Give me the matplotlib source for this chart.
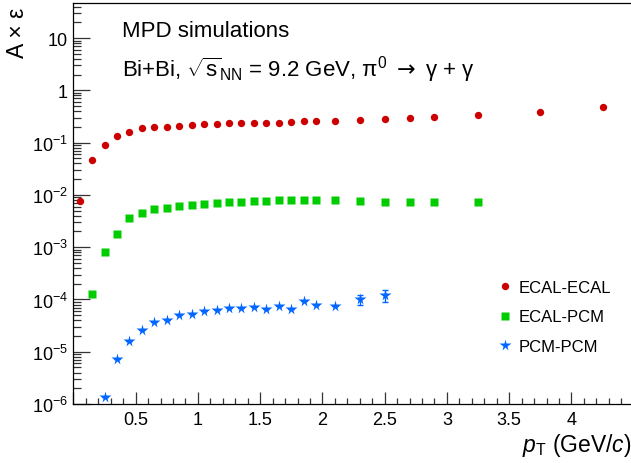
import numpy as np
import matplotlib
matplotlib.use("Agg")
import matplotlib.pyplot as plt
from matplotlib.ticker import FixedLocator, FuncFormatter, MultipleLocator

plt.rcParams["font.family"] = ["Liberation Sans", "DejaVu Sans"]
plt.rcParams["mathtext.fontset"] = "custom"
plt.rcParams["mathtext.rm"] = "Liberation Sans"
plt.rcParams["mathtext.it"] = "Liberation Sans:italic"
plt.rcParams["mathtext.bf"] = "Liberation Sans:bold"
plt.rcParams["mathtext.sf"] = "DejaVu Sans"

# ---------------------------------------------------------------------------
# Data
# ---------------------------------------------------------------------------
pt_ecal_ecal = [0.05, 0.15, 0.25, 0.35, 0.45, 0.55, 0.65, 0.75, 0.85, 0.95,
                1.05, 1.15, 1.25, 1.35, 1.45, 1.55, 1.65, 1.75, 1.85, 1.95,
                2.1, 2.3, 2.5, 2.7, 2.9, 3.25, 3.75, 4.25]
acc_ecal_ecal = [0.0077, 0.046, 0.092, 0.133, 0.163, 0.189, 0.200, 0.202,
                 0.212, 0.215, 0.225, 0.225, 0.238, 0.238, 0.238, 0.243,
                 0.243, 0.245, 0.256, 0.256, 0.265, 0.270, 0.284, 0.300,
                 0.315, 0.334, 0.386, 0.48]

pt_ecal_pcm = [0.15, 0.25, 0.35, 0.45, 0.55, 0.65, 0.75, 0.85, 0.95,
               1.05, 1.15, 1.25, 1.35, 1.45, 1.55, 1.65, 1.75, 1.85, 1.95,
               2.1, 2.3, 2.5, 2.7, 2.9, 3.25]
acc_ecal_pcm = [1.26e-4, 8.0e-4, 1.75e-3, 3.6e-3, 4.5e-3, 5.3e-3, 5.7e-3,
                6.2e-3, 6.5e-3, 6.8e-3, 7.1e-3, 7.4e-3, 7.4e-3, 7.7e-3,
                7.7e-3, 7.9e-3, 7.9e-3, 8.0e-3, 8.0e-3, 8.0e-3, 7.7e-3,
                7.2e-3, 7.2e-3, 7.2e-3, 7.2e-3]

pt_pcm_pcm = [0.25, 0.35, 0.45, 0.55, 0.65, 0.75, 0.85, 0.95,
              1.05, 1.15, 1.25, 1.35, 1.45, 1.55, 1.65, 1.75, 1.85, 1.95,
              2.1, 2.3, 2.5]
acc_pcm_pcm = [1.34e-6, 7.2e-6, 1.6e-5, 2.57e-5, 3.7e-5, 4.0e-5, 5.1e-5,
               5.3e-5, 5.9e-5, 6.4e-5, 7.0e-5, 7.0e-5, 7.2e-5, 6.5e-5,
               7.6e-5, 6.7e-5, 9.2e-5, 7.9e-5, 7.5e-5, 1.0e-4, 1.21e-4]
err_pcm_pcm = [0, 0, 0, 0, 0, 0, 0, 0, 0, 0, 0, 0, 0, 0, 0, 0, 0, 0,
               0, 2.0e-5, 3.2e-5]

labels = ["ECAL-ECAL", "ECAL-PCM", "PCM-PCM"]

# ---------------------------------------------------------------------------
# Figure
# ---------------------------------------------------------------------------
fig = plt.figure(figsize=(6.31, 4.64), dpi=100)
ax = fig.add_axes([73.4 / 631, 59 / 464, 1 - 73.4 / 631, 401 / 464])

ax.plot(pt_ecal_ecal, acc_ecal_ecal, "o", color="#cc0000", ms=5.3,
        mec="none", label=labels[0])
ax.plot(pt_ecal_pcm, acc_ecal_pcm, "s", color="#00cc00", ms=5.3,
        mec="none", label=labels[1])
ax.errorbar(pt_pcm_pcm, acc_pcm_pcm, yerr=err_pcm_pcm, fmt="none",
            ecolor="#0066ff", elinewidth=1, capsize=2)
ax.plot(pt_pcm_pcm, acc_pcm_pcm, "*", color="#0066ff", ms=8.5,
        mec="none", label=labels[2])

ax.set_yscale("log")
ax.set_xlim(0, 558 / 124.6)
ax.set_ylim(1e-6, 47)

ax.xaxis.set_major_locator(MultipleLocator(0.5))
ax.xaxis.set_minor_locator(MultipleLocator(0.1))
ax.xaxis.set_major_formatter(FuncFormatter(
    lambda v, p: "" if v == 0 else f"{v:g}"))

decades = [1e-6, 1e-5, 1e-4, 1e-3, 1e-2, 1e-1, 1, 10]
ax.yaxis.set_major_locator(FixedLocator(decades))
ax.yaxis.set_minor_locator(FixedLocator(
    [m * d for d in decades for m in range(2, 10)]))


def _yfmt(v, pos):
    e = int(round(np.log10(v)))
    if e >= 0:
        return f"{int(round(v))}"
    return r"$10^{\mathregular{-%d}}$" % (-e)


ax.yaxis.set_major_formatter(FuncFormatter(_yfmt))

ax.tick_params(axis="both", which="both", direction="in", labelsize=13,
               width=0.9, color="#333333")
ax.tick_params(axis="x", which="major", length=8.6, pad=5)
ax.tick_params(axis="x", which="minor", length=4.6)
ax.tick_params(axis="y", which="major", length=12, pad=4)
ax.tick_params(axis="y", which="minor", length=6)
ax.spines["right"].set_visible(False)
for s in ["left", "bottom", "top"]:
    ax.spines[s].set_linewidth(0.9)

ax.set_xlabel(r"$p_{\mathregular{T}}$ (GeV/$c$)", fontsize=16.5, loc="right",
              labelpad=2)
ax.set_ylabel("A × ε", fontsize=16.5, loc="top")
ax.yaxis.set_label_coords(-0.079, 0.99)

ax.text(121.5 / 631, 1 - 37.5 / 464, "MPD simulations", fontsize=16,
        transform=fig.transFigure)
ax.text(121.5 / 631, 1 - 76.5 / 464,
        r"Bi+Bi, $\sqrt{\mathregular{s}}_{\mathregular{NN}}$ = 9.2 GeV, "
        r"π$^{0}$ $\mathsf{\rightarrow}$ γ + γ",
        fontsize=16, transform=fig.transFigure)

ax.legend(loc="center left", bbox_to_anchor=(0.759, 0.217), frameon=False,
          fontsize=12, handlelength=1.0, handletextpad=0.3, borderpad=0,
          borderaxespad=0, labelspacing=0.85, numpoints=1)

fig.savefig("out.png", dpi=100)
